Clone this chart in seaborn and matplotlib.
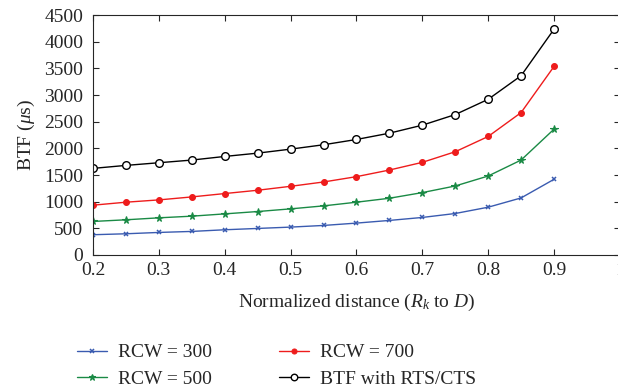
import numpy as np
import pandas as pd
import matplotlib
matplotlib.use("Agg")
import matplotlib.pyplot as plt
import seaborn as sns

distance = [0.2, 0.25, 0.3, 0.35, 0.4, 0.45, 0.5, 0.55, 0.6, 0.65, 0.7, 0.75, 0.8, 0.85, 0.9]
rcw300 = [380, 398, 423, 442, 473, 498, 523, 554, 598, 648, 704, 778, 896, 1070, 1419]
rcw500 = [629, 660, 697, 728, 771, 815, 865, 921, 990, 1064, 1170, 1294, 1481, 1780, 2359]
rcw700 = [934, 990, 1033, 1089, 1152, 1214, 1288, 1369, 1469, 1593, 1737, 1936, 2222, 2670, 3535]
btf_rts = [1624, 1680, 1730, 1780, 1848, 1910, 1985, 2067, 2166, 2284, 2434, 2633, 2919, 3361, 4233]
series_names = ["RCW = 300", "RCW = 500", "RCW = 700", "BTF with RTS/CTS"]
xticks = [0.2, 0.3, 0.4, 0.5, 0.6, 0.7, 0.8, 0.9, 1.0]
xticklabels = ["0.2", "0.3", "0.4", "0.5", "0.6", "0.7", "0.8", "0.9", "1"]
yticks = [0, 500, 1000, 1500, 2000, 2500, 3000, 3500, 4000, 4500]

sns.set_style("ticks")
plt.rcParams["font.family"] = ["Liberation Serif", "DejaVu Serif"]
plt.rcParams["mathtext.fontset"] = "custom"
plt.rcParams["mathtext.rm"] = "Liberation Serif"
plt.rcParams["mathtext.it"] = "Liberation Serif:italic"

fig = plt.figure(figsize=(6.18, 3.92), dpi=100)
ax = fig.add_axes([0.1505, 0.3495, 0.8525, 0.6122])

df = pd.DataFrame({
    "x": distance * 4,
    "y": rcw300 + rcw500 + rcw700 + btf_rts,
    "series": sum([[n] * len(distance) for n in series_names], []),
})

styles = {
    "RCW = 300": dict(color="#3a5bb0", marker="x", ms=3.5, mew=1.1, mfc="#3a5bb0"),
    "RCW = 500": dict(color="#1a8a45", marker="*", ms=5.5, mew=0.8, mfc="#1a8a45"),
    "RCW = 700": dict(color="#ee1c1c", marker="o", ms=4.2, mew=0.8, mfc="#ee1c1c"),
    "BTF with RTS/CTS": dict(color="black", marker="o", ms=5.5, mew=1.0, mfc="white"),
}
for name in series_names:
    st = styles[name]
    sub = df[df["series"] == name]
    sns.lineplot(data=sub, x="x", y="y", ax=ax, label=name, color=st["color"],
                 marker=st["marker"], markersize=st["ms"], markeredgewidth=st["mew"],
                 markerfacecolor=st["mfc"], markeredgecolor=st["color"], lw=1.0)

ax.set_xlim(0.2, 1.0)
ax.set_ylim(0, 4500)
ax.set_xticks(xticks)
ax.set_xticklabels(xticklabels)
ax.set_yticks(yticks)
ax.tick_params(direction="in", top=True, right=True, labelsize=14, length=4, width=0.8)
ax.tick_params(axis="x", pad=5)
ax.tick_params(axis="y", pad=7)
for s in ax.spines.values():
    s.set_linewidth(0.8)
ax.set_xlabel("Normalized distance ($R_k$ to $D$)", fontsize=14, labelpad=9)
ax.set_ylabel("BTF ($\\mu$s)", fontsize=14, labelpad=5)

handles, labels = ax.get_legend_handles_labels()
ax.get_legend().remove()
leg = fig.legend(handles, labels, loc="upper left", bbox_to_anchor=(0.124, 0.123),
                 ncol=2, frameon=False, fontsize=14, handlelength=1.55,
                 columnspacing=3.4, labelspacing=0.45, handletextpad=0.6,
                 borderpad=0, borderaxespad=0, markerscale=0.85)

fig.savefig("out.png", dpi=100)
